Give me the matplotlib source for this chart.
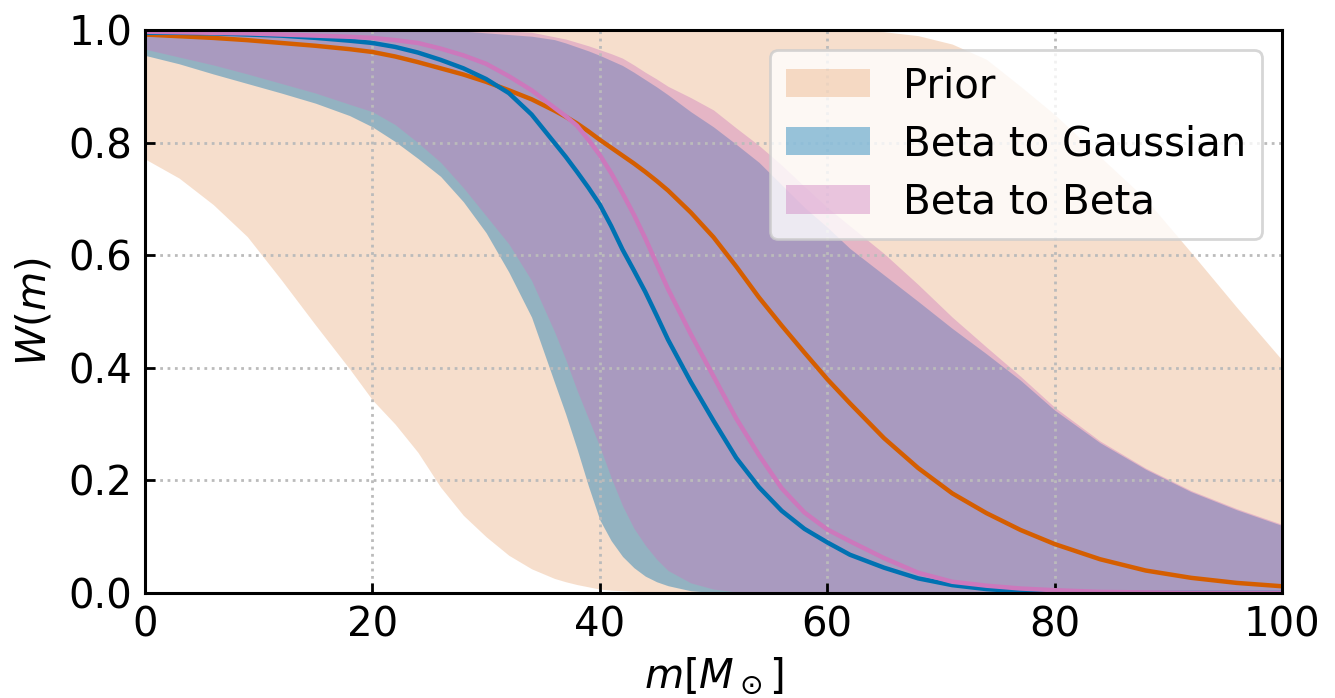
import numpy as np
import matplotlib
matplotlib.use("Agg")
import matplotlib.pyplot as plt

# --- data ---
m = [0, 3, 6, 9, 12, 15, 18, 20, 22, 24, 26, 28, 30, 32, 34, 36, 37, 38, 39, 40,
     41, 42, 43, 44, 45, 46, 48, 50, 52, 54, 56, 58, 60, 62, 65, 68, 71, 74, 77, 80,
     84, 88, 92, 96, 100]

prior_lo = [0.771, 0.737, 0.690, 0.633, 0.556, 0.476, 0.398, 0.343, 0.300, 0.250,
            0.188, 0.138, 0.100, 0.067, 0.043, 0.026, 0.020, 0.015, 0.011, 0.007,
            0.005, 0.004, 0.003, 0.002, 0.001, 0.001, 0.0, 0.0, 0.0, 0.0,
            0.0, 0.0, 0.0, 0.0, 0.0, 0.0, 0.0, 0.0, 0.0, 0.0,
            0.0, 0.0, 0.0, 0.0, 0.0]
prior_hi = [1.0, 1.0, 1.0, 1.0, 1.0, 1.0, 1.0, 1.0, 1.0, 1.0,
            1.0, 1.0, 1.0, 1.0, 1.0, 1.0, 1.0, 1.0, 1.0, 1.0,
            1.0, 1.0, 1.0, 1.0, 1.0, 1.0, 1.0, 1.0, 1.0, 1.0,
            1.0, 1.0, 1.0, 0.999, 0.997, 0.990, 0.975, 0.948, 0.900, 0.850,
            0.775, 0.700, 0.605, 0.508, 0.414]
prior_med = [0.992, 0.989, 0.986, 0.982, 0.977, 0.972, 0.966, 0.961, 0.953, 0.943,
             0.932, 0.921, 0.908, 0.893, 0.877, 0.857, 0.846, 0.834, 0.820, 0.805,
             0.791, 0.777, 0.763, 0.748, 0.732, 0.715, 0.676, 0.632, 0.580, 0.525,
             0.475, 0.427, 0.380, 0.337, 0.275, 0.222, 0.177, 0.142, 0.112, 0.087,
             0.060, 0.040, 0.027, 0.018, 0.012]

gauss_lo = [0.955, 0.940, 0.922, 0.905, 0.888, 0.870, 0.848, 0.828, 0.802, 0.772,
            0.740, 0.695, 0.640, 0.570, 0.490, 0.375, 0.318, 0.256, 0.190, 0.130,
            0.093, 0.065, 0.045, 0.030, 0.020, 0.013, 0.004, 0.001, 0.0, 0.0,
            0.0, 0.0, 0.0, 0.0, 0.0, 0.0, 0.0, 0.0, 0.0, 0.0,
            0.0, 0.0, 0.0, 0.0, 0.0]
gauss_hi = [1.0, 1.0, 1.0, 1.0, 1.0, 1.0, 1.0, 1.0, 1.0, 1.0,
            1.0, 0.998, 0.995, 0.992, 0.989, 0.983, 0.977, 0.970, 0.963, 0.955,
            0.946, 0.937, 0.925, 0.912, 0.899, 0.885, 0.855, 0.828, 0.797, 0.765,
            0.725, 0.685, 0.650, 0.612, 0.565, 0.518, 0.470, 0.425, 0.378, 0.325,
            0.267, 0.220, 0.180, 0.148, 0.120]
gauss_med = [0.995, 0.995, 0.994, 0.992, 0.990, 0.986, 0.981, 0.977, 0.970, 0.960,
             0.947, 0.932, 0.913, 0.888, 0.850, 0.800, 0.775, 0.748, 0.720, 0.690,
             0.652, 0.610, 0.573, 0.535, 0.493, 0.450, 0.375, 0.306, 0.240, 0.188,
             0.146, 0.114, 0.090, 0.068, 0.045, 0.026, 0.014, 0.007, 0.003, 0.002,
             0.001, 0.0, 0.0, 0.0, 0.0]

beta_lo = [0.966, 0.952, 0.938, 0.922, 0.905, 0.888, 0.868, 0.855, 0.832, 0.800,
           0.765, 0.720, 0.670, 0.620, 0.555, 0.465, 0.415, 0.360, 0.310, 0.260,
           0.205, 0.155, 0.115, 0.085, 0.060, 0.040, 0.018, 0.007, 0.002, 0.0,
           0.0, 0.0, 0.0, 0.0, 0.0, 0.0, 0.0, 0.0, 0.0, 0.0,
           0.0, 0.0, 0.0, 0.0, 0.0]
beta_hi = [1.0, 1.0, 1.0, 1.0, 1.0, 1.0, 1.0, 1.0, 1.0, 1.0,
           1.0, 1.0, 1.0, 0.998, 0.996, 0.988, 0.984, 0.978, 0.972, 0.965,
           0.958, 0.950, 0.938, 0.925, 0.913, 0.900, 0.880, 0.858, 0.826, 0.795,
           0.760, 0.722, 0.685, 0.652, 0.603, 0.548, 0.490, 0.437, 0.385, 0.330,
           0.270, 0.222, 0.182, 0.150, 0.122]
beta_med = [0.997, 0.996, 0.995, 0.994, 0.992, 0.990, 0.988, 0.986, 0.982, 0.977,
            0.967, 0.955, 0.940, 0.918, 0.893, 0.862, 0.847, 0.830, 0.805, 0.778,
            0.746, 0.710, 0.672, 0.630, 0.585, 0.540, 0.460, 0.385, 0.310, 0.245,
            0.186, 0.143, 0.113, 0.092, 0.062, 0.036, 0.020, 0.013, 0.008, 0.005,
            0.002, 0.001, 0.0, 0.0, 0.0]

labels = ["Prior", "Beta to Gaussian", "Beta to Beta"]
c_prior = "#D55E00"
c_gauss = "#0072B2"
c_beta = "#CC78BC"

# --- plot ---
fig = plt.figure(figsize=(6.675, 3.49), dpi=200)
ax = fig.add_axes([0.1086, 0.1504, 0.9603 - 0.1086, 0.957 - 0.1504])

ax.fill_between(m, prior_lo, prior_hi, color=c_prior, alpha=0.2, lw=0, label=labels[0])
ax.fill_between(m, gauss_lo, gauss_hi, color=c_gauss, alpha=0.4, lw=0, label=labels[1])
ax.fill_between(m, beta_lo, beta_hi, color=c_beta, alpha=0.4, lw=0, label=labels[2])

ax.plot(m, prior_med, color=c_prior, lw=1.6)
ax.plot(m, gauss_med, color=c_gauss, lw=1.6)
ax.plot(m, beta_med, color=c_beta, lw=1.6)

ax.set_xlim(0, 100)
ax.set_ylim(0, 1)
ax.set_xticks([0, 20, 40, 60, 80, 100])
ax.set_yticks([0.0, 0.2, 0.4, 0.6, 0.8, 1.0])
ax.tick_params(direction="in", labelsize=14.5, length=3.5, width=1.0, pad=4.5)
for s in ax.spines.values():
    s.set_linewidth(1.1)
ax.grid(True, ls=":", color="#bbbbbb", lw=1.0)

ax.set_xlabel(r"$m[M_\odot]$", fontsize=14.5, labelpad=3.5)
ax.set_ylabel(r"$W(m)$", fontsize=14.5, labelpad=5)

ax.legend(loc="upper right", fontsize=14.5, handlelength=2.1, labelspacing=0.45)

fig.savefig("out.png", dpi=200)
